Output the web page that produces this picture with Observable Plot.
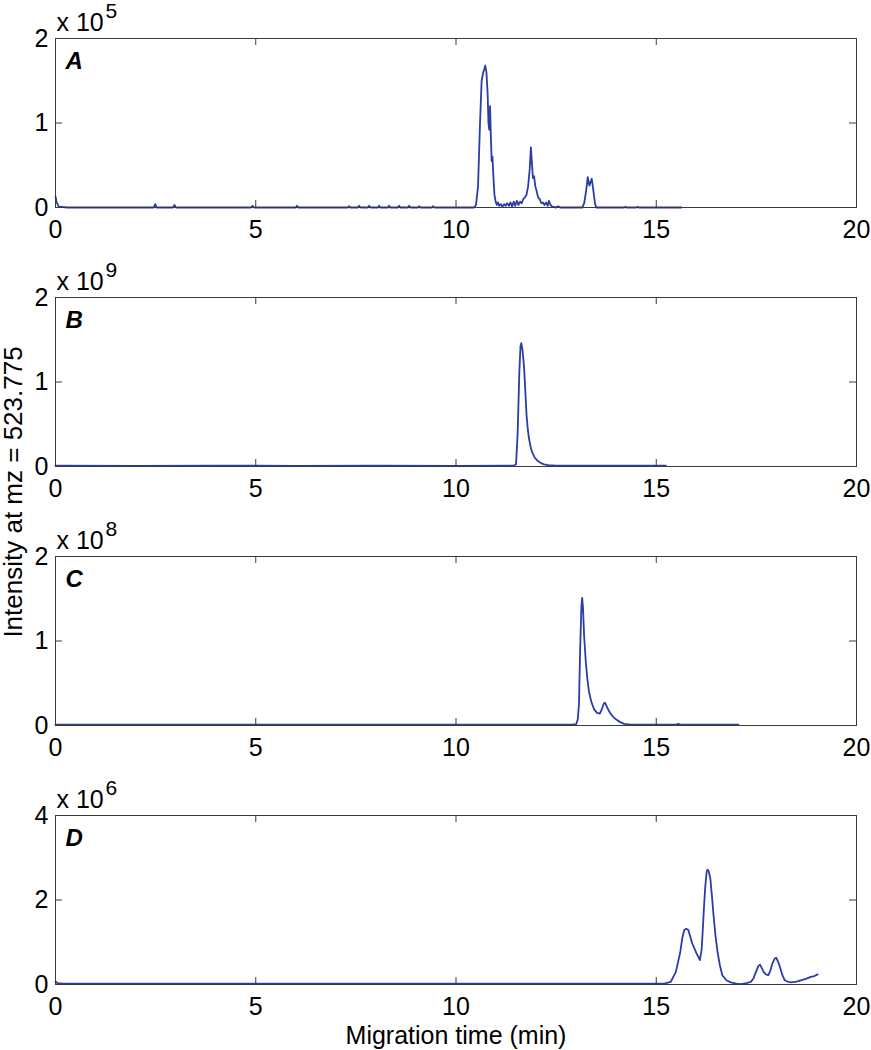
<!DOCTYPE html>
<html><head><meta charset="utf-8">
<script src="https://cdn.jsdelivr.net/npm/d3@7"></script>
<script src="https://cdn.jsdelivr.net/npm/@observablehq/plot@0.6"></script>
<style>
body{margin:0;background:#fff;}
#wrap{position:relative;width:871px;height:1050px;font-family:"Liberation Sans",Arial,sans-serif;color:#000;}
#wrap svg{display:block;}
#ylabel{position:absolute;left:13px;top:492px;transform:translate(-50%,-50%) rotate(-90deg);white-space:nowrap;font-size:26px;line-height:1;}
</style></head>
<body><div id="wrap"><div id="ylabel">Intensity at mz = 523.775</div></div>
<script>
// ---- data (intensity in units of the panel's exponent) ----
const xTicks = [0, 5, 10, 15, 20];
const panelLetters = ["A", "B", "C", "D"];
const panelExponents = ["5", "9", "8", "6"];
const panelYMax = [2, 2, 2, 4];
const panelYTicks = [[0, 1, 2], [0, 1, 2], [0, 1, 2], [0, 2, 4]];

const timeA = [0,0.03,0.08,0.3,1.0,2.0,2.45,2.49,2.53,2.93,2.97,3.01,4.88,4.92,4.96,6.0,6.03,6.06,7.3,7.33,7.36,7.55,7.58,7.62,7.8,7.83,7.87,8.05,8.08,8.11,8.3,8.33,8.36,8.55,8.58,8.61,8.8,8.83,8.86,9.05,9.08,9.11,9.4,9.43,9.46,10.45,10.5,10.55,10.6,10.64,10.68,10.71,10.73,10.76,10.79,10.81,10.83,10.85,10.87,10.89,10.91,10.93,10.96,10.99,11.02,11.05,11.08,11.12,11.16,11.2,11.24,11.28,11.32,11.36,11.4,11.44,11.48,11.52,11.56,11.6,11.64,11.68,11.72,11.76,11.8,11.84,11.87,11.9,11.92,11.95,11.98,12.01,12.05,12.09,12.13,12.17,12.21,12.25,12.29,12.32,12.36,12.4,12.5,12.55,12.6,13.15,13.2,13.25,13.29,13.33,13.36,13.39,13.43,13.47,13.5,14.2,14.23,14.26,14.5,14.53,14.56,15.63];
const intensityA = [0.13,0.06,0.01,0,0,0,0,0.04,0,0,0.03,0,0,0.02,0,0,0.02,0,0,0.015,0,0,0.02,0,0,0.02,0,0,0.02,0,0,0.02,0,0,0.02,0,0,0.02,0,0,0.015,0,0,0.015,0,0,0.03,0.25,1.0,1.5,1.6,1.64,1.68,1.6,1.35,1.0,0.92,1.2,0.85,0.55,0.6,0.4,0.15,0.07,0.03,0.06,0.02,0.04,0.01,0.04,0.02,0.05,0.02,0.06,0.01,0.07,0.02,0.08,0.03,0.07,0.05,0.1,0.12,0.15,0.25,0.45,0.71,0.5,0.35,0.37,0.25,0.2,0.12,0.1,0.05,0.06,0.03,0.06,0.02,0.08,0.03,0.01,0,0.015,0,0,0.05,0.2,0.36,0.26,0.3,0.34,0.2,0.05,0,0,0.01,0,0,0.01,0,0];

const timeB = [0,2,4,6,8,10,11.45,11.5,11.54,11.58,11.61,11.63,11.66,11.7,11.73,11.76,11.79,11.82,11.86,11.9,11.96,12.03,12.12,12.2,12.3,12.5,13.5,15.24];
const intensityB = [0.01,0.008,0.01,0.008,0.01,0.008,0.01,0.03,0.4,1.1,1.42,1.46,1.38,1.17,0.9,0.62,0.45,0.34,0.24,0.17,0.11,0.07,0.04,0.025,0.015,0.01,0.01,0.01];

const timeC = [0,3,6,9,12.9,13.0,13.04,13.07,13.1,13.13,13.15,13.17,13.2,13.24,13.28,13.32,13.38,13.45,13.52,13.59,13.64,13.69,13.72,13.76,13.81,13.86,13.93,14.0,14.1,14.2,14.35,15.5,15.55,15.6,17.05];
const intensityC = [0.01,0.01,0.01,0.01,0.01,0.015,0.07,0.25,0.9,1.4,1.51,1.4,1.05,0.76,0.55,0.4,0.28,0.19,0.15,0.14,0.19,0.26,0.27,0.23,0.18,0.14,0.1,0.07,0.04,0.02,0.01,0.01,0.02,0.01,0.01];

const timeD = [0,0.05,0.2,5,10,15.0,15.2,15.36,15.49,15.6,15.65,15.7,15.75,15.8,15.9,16.0,16.09,16.13,16.15,16.19,16.22,16.26,16.28,16.31,16.35,16.39,16.43,16.48,16.53,16.59,16.65,16.75,16.86,17.0,17.11,17.25,17.36,17.43,17.49,17.55,17.59,17.64,17.68,17.74,17.8,17.85,17.9,17.96,18.0,18.05,18.1,18.15,18.21,18.3,18.36,18.5,18.61,18.75,18.86,18.95,19.03];
const intensityD = [0.07,0.03,0.02,0.02,0.02,0.02,0.02,0.06,0.3,0.77,1.1,1.29,1.32,1.29,0.97,0.75,0.58,0.8,1.09,1.8,2.27,2.68,2.72,2.68,2.51,2.1,1.64,1.15,0.77,0.45,0.22,0.1,0.05,0.02,0.01,0.03,0.06,0.15,0.3,0.44,0.47,0.38,0.3,0.24,0.22,0.33,0.5,0.62,0.63,0.52,0.38,0.22,0.1,0.06,0.05,0.07,0.1,0.14,0.18,0.2,0.24];

const xLabel = "Migration time (min)";
const panelTimes = [timeA, timeB, timeC, timeD];
const panelIntensities = [intensityA, intensityB, intensityC, intensityD];

// ---- drawing ----
const W = 871, frameTop = 38, frameH = 169, mL = 55, mR = 15;
const frameW = W - mL - mR;
const lineColor = "#2b3da6";
const axisColor = "#3a3a3a";
const wrap = document.getElementById("wrap");

panelLetters.forEach((letter, i) => {
  const last = i === panelLetters.length - 1;
  const h = last ? 273 : 259;
  const rows = panelTimes[i].map((t, j) => ({t, v: panelIntensities[i][j]}));
  const yT = panelYTicks[i];
  const marks = [
    Plot.line(rows, {x: "t", y: "v", stroke: lineColor, strokeWidth: 1.8}),
    Plot.tickX(xTicks, {x: d => d, insetTop: frameH - 7, stroke: axisColor}),
    Plot.tickX(xTicks, {x: d => d, insetBottom: frameH - 7, stroke: axisColor}),
    Plot.tickY(yT, {y: d => d, insetRight: frameW - 7, stroke: axisColor}),
    Plot.tickY(yT, {y: d => d, insetLeft: frameW - 7, stroke: axisColor}),
    Plot.frame({stroke: axisColor, strokeWidth: 1}),
    Plot.axisX({ticks: xTicks, tickSize: 0, tickPadding: 13, fontSize: 25, tickFormat: d => String(d)}),
    Plot.axisY({ticks: yT, tickSize: 0, tickPadding: 7, fontSize: 25, tickFormat: d => String(d)}),
    Plot.text(["x 10"], {frameAnchor: "top-left", dx: 1, dy: -8, textAnchor: "start", lineAnchor: "bottom", fontSize: 25}),
    Plot.text([panelExponents[i]], {frameAnchor: "top-left", dx: 50, dy: -21, textAnchor: "start", lineAnchor: "bottom", fontSize: 21}),
    Plot.text([letter], {frameAnchor: "top-left", dx: 10, dy: 30, textAnchor: "start", lineAnchor: "bottom", fontSize: 24, fontWeight: "bold", fontStyle: "italic"})
  ];
  if (last) marks.push(Plot.text([xLabel], {frameAnchor: "bottom", dy: 59, lineAnchor: "bottom", fontSize: 25}));
  const svg = Plot.plot({
    width: W, height: h,
    marginLeft: mL, marginRight: mR, marginTop: frameTop, marginBottom: h - frameTop - frameH,
    x: {domain: [0, 20], label: null},
    y: {domain: [0, panelYMax[i]], label: null},
    style: {fontFamily: "'Liberation Sans', Arial, sans-serif", fontSize: "25px", color: "#000", background: "transparent", overflow: "visible"},
    marks
  });
  wrap.appendChild(svg);
});
</script>
</body></html>
